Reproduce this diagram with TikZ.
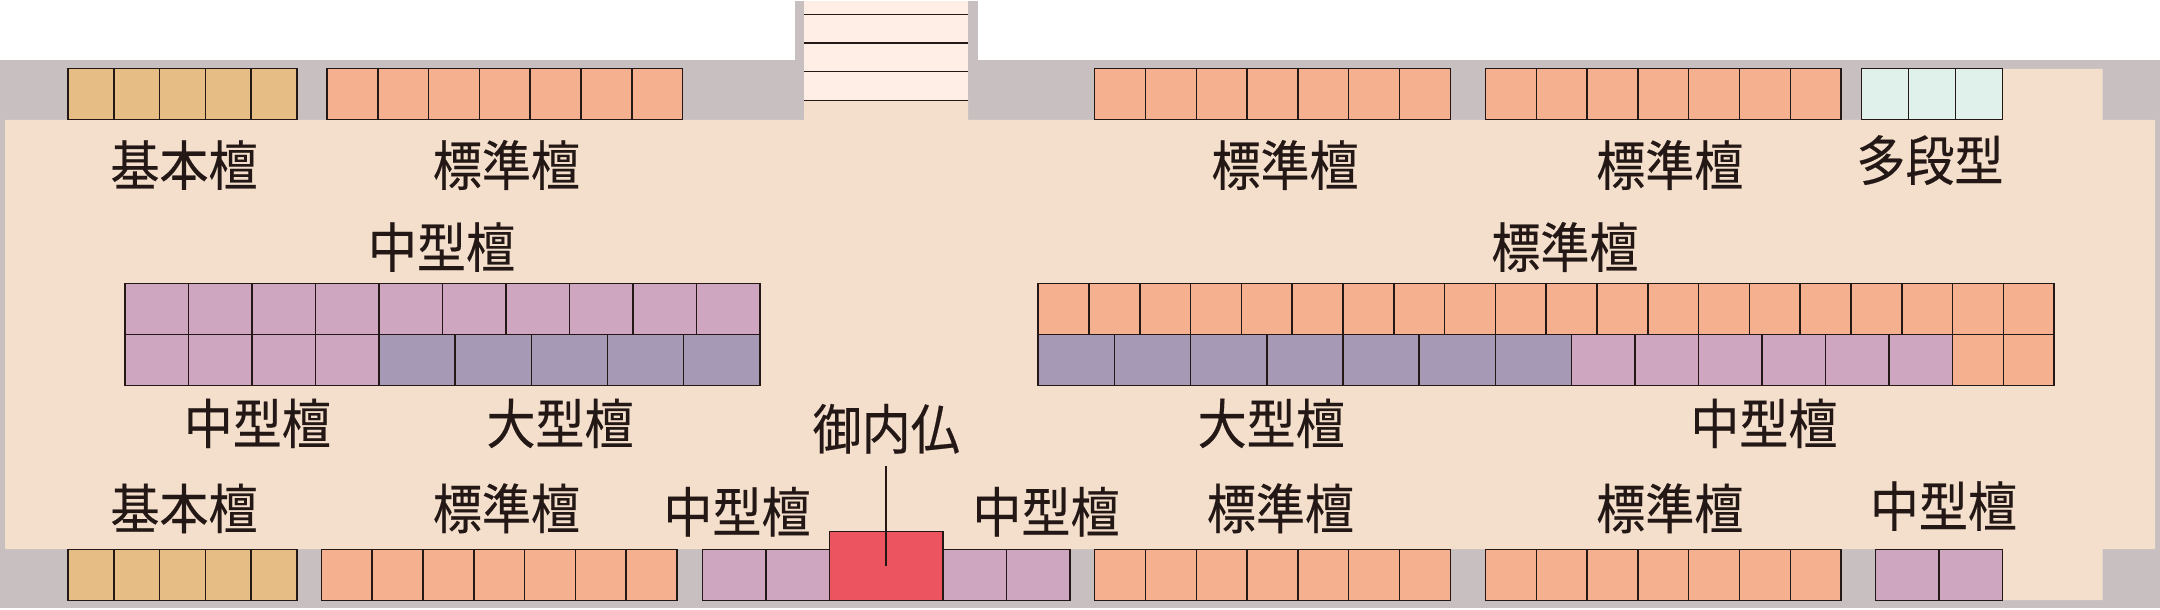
\documentclass[tikz,border=0pt]{standalone}
\usepackage{fontspec}
\setmainfont[FakeBold=0.35]{Noto Sans CJK JP}
\definecolor{wallgray}{HTML}{C8BFC0}
\definecolor{floorcol}{HTML}{F4DFCC}
\definecolor{stepcol}{HTML}{FEEEE5}
\definecolor{inkcol}{HTML}{231815}
\definecolor{kihoncol}{HTML}{E6BD85}
\definecolor{hyojuncol}{HTML}{F5B08F}
\definecolor{chugatacol}{HTML}{CFA6BF}
\definecolor{ogatacol}{HTML}{A699B5}
\definecolor{tadancol}{HTML}{E0F1EB}
\definecolor{butsucol}{HTML}{EC5560}
\tikzset{
  plan/.style={x=0.5pt,y=-0.5pt},
  cell/.style={draw=inkcol,line width=0.75pt},
  kihon/.style={cell,fill=kihoncol},
  hyojun/.style={cell,fill=hyojuncol},
  chugata/.style={cell,fill=chugatacol},
  ogata/.style={cell,fill=ogatacol},
  tadan/.style={cell,fill=tadancol},
  butsu/.style={cell,fill=butsucol},
  label/.style={text=inkcol,inner sep=0pt,yscale=1.1,transform shape,
    text height=21.6pt,text depth=2.9pt,font=\fontsize{24.5pt}{24.5pt}\selectfont}
}
% x, y, cells, width, height, style
\newcommand{\danrow}[6]{
  \foreach \i in {1,...,#3}
    \draw[#6] ({#1+(\i-1)*#4},#2) rectangle ++(#4,#5);
}
\begin{document}
\begin{tikzpicture}[plan]
\useasboundingbox (0,0) rectangle (2160,610);
% walls
\fill[wallgray] (0,60) rectangle (2160,608);
\fill[wallgray] (795,1) rectangle (978,60);
\fill[stepcol] (804,1) rectangle (968,100);
\fill[floorcol] (5,120) -- (804,120) -- (804,100) -- (968,100) -- (968,120)
  -- (2002,120) -- (2002,69) -- (2102.5,69) -- (2102.5,120) -- (2155,120)
  -- (2155,549) -- (2102.5,549) -- (2102.5,600) -- (2002,600) -- (2002,549)
  -- (5,549) -- cycle;
% stairs
\foreach \y in {14.3,43,71.7,100.3}
  \draw[inkcol,line width=0.75pt] (804,\y) -- (968,\y);
% top row
\danrow{68}{68.7}{5}{45.8}{51}{kihon}
\danrow{327}{68.7}{7}{50.8}{51}{hyojun}
\danrow{1094.7}{68.7}{7}{50.8}{51}{hyojun}
\danrow{1485.5}{68.7}{7}{50.8}{51}{hyojun}
\danrow{1861.5}{68.7}{3}{47}{51}{tadan}
% left block
\danrow{124.9}{283.7}{10}{63.5}{51}{chugata}
\danrow{124.9}{334.7}{4}{63.5}{50.6}{chugata}
\danrow{378.9}{334.7}{5}{76.2}{50.6}{ogata}
% right block
\danrow{1038.2}{283.7}{20}{50.8}{51}{hyojun}
\danrow{1038.2}{334.7}{7}{76.2}{50.6}{ogata}
\danrow{1571.6}{334.7}{6}{63.5}{50.6}{chugata}
\danrow{1952.6}{334.7}{2}{50.8}{50.6}{hyojun}
% bottom row
\danrow{68}{549.3}{5}{45.8}{51}{kihon}
\danrow{321.4}{549.3}{7}{50.8}{51}{hyojun}
\danrow{702.5}{549.3}{2}{63.4}{51}{chugata}
\danrow{943.1}{549.3}{2}{63.4}{51}{chugata}
\danrow{1094.7}{549.3}{7}{50.8}{51}{hyojun}
\danrow{1485.5}{549.3}{7}{50.8}{51}{hyojun}
\danrow{1875.3}{549.3}{2}{63.5}{51}{chugata}
\draw[butsu] (829.3,531.7) rectangle (943.1,600.3);
% labels
\node[label] (kihonA) at (184,165) {基本檀};
\node[label] (hyojunA) at (506.4,165) {標準檀};
\node[label] (hyojunB) at (1285,165) {標準檀};
\node[label] (hyojunC) at (1669.8,165) {標準檀};
\node[label] (tadanA) at (1930,160) {多段型};
\node[label] (chugataA) at (441.5,247) {中型檀};
\node[label] (hyojunD) at (1564.9,247) {標準檀};
\node[label] (chugataB) at (257.3,423.3) {中型檀};
\node[label] (ogataA) at (560,423.3) {大型檀};
\node[label] (ogataB) at (1271.2,423.3) {大型檀};
\node[label] (chugataC) at (1763.9,423.3) {中型檀};
\node[label] (butsuA) at (886.2,428.7) {御内仏};
\node[label] (kihonB) at (184,508.3) {基本檀};
\node[label] (hyojunE) at (506.4,508.3) {標準檀};
\node[label] (chugataD) at (737,511.7) {中型檀};
\node[label] (chugataE) at (1046,511.7) {中型檀};
\node[label] (hyojunF) at (1280.4,508.3) {標準檀};
\node[label] (hyojunG) at (1669.8,508.3) {標準檀};
\node[label] (chugataF) at (1943.4,506) {中型檀};
% leader
\coordinate (leadtop) at (886.2,466);
\coordinate (leadend) at (886.2,565.7);
\draw[inkcol,line width=1.1pt] (leadtop) -- (leadend);
\end{tikzpicture}
\end{document}
